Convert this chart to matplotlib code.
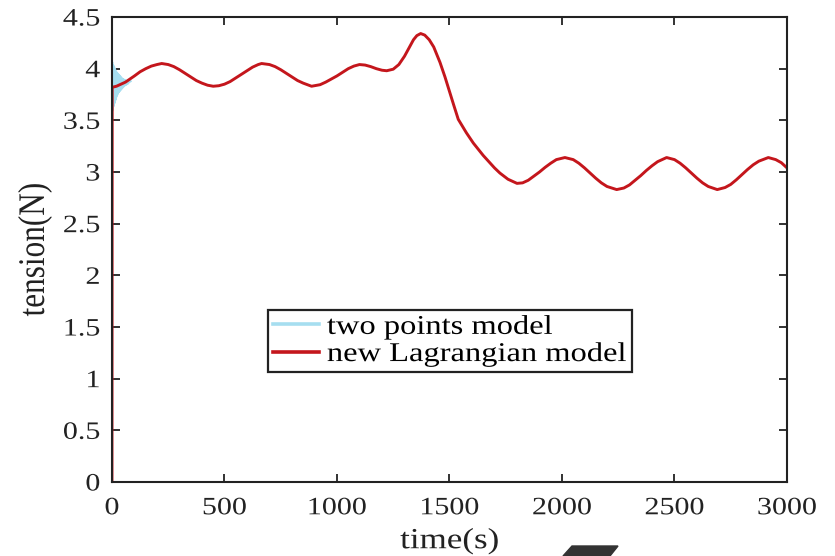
import matplotlib

matplotlib.use("Agg")
import matplotlib.pyplot as plt  # noqa: E402
from matplotlib.patches import Polygon  # noqa: E402
from matplotlib.patheffects import AbstractPathEffect  # noqa: E402
from matplotlib.ticker import FuncFormatter  # noqa: E402
from matplotlib.transforms import Affine2D  # noqa: E402

plt.rcParams["font.family"] = ["Liberation Serif", "DejaVu Serif"]

# --- data ------------------------------------------------------------------
# two points model: fast decaying oscillation at the start (s, N)
two_t = [0, 2, 4, 6, 8, 10, 12, 14, 16, 18, 20, 22, 24, 26, 28, 30, 32, 34,
         36, 38, 40, 42, 44, 46, 48, 50, 52, 54, 56, 58, 60, 62, 64, 66, 68,
         70, 72, 76, 80]
two_v = [4.05, 3.60, 4.03, 3.64, 4.01, 3.67, 3.99, 3.70, 3.97, 3.73, 3.96,
         3.75, 3.95, 3.77, 3.94, 3.78, 3.93, 3.79, 3.92, 3.80, 3.91, 3.81,
         3.90, 3.82, 3.895, 3.83, 3.89, 3.84, 3.885, 3.845, 3.88, 3.85,
         3.878, 3.855, 3.875, 3.86, 3.872, 3.875, 3.88]

# new Lagrangian model (s, N)
lag_t = [0, 1, 20, 40, 60, 80, 100, 125, 150, 175, 200, 221, 250, 275, 300,
         325, 350, 375, 400, 425, 450, 475, 500, 525, 550, 575, 600, 625,
         650, 665, 700, 725, 750, 775, 800, 825, 850, 887, 925, 950, 975,
         1000, 1025, 1050, 1075, 1100, 1125, 1150, 1175, 1200, 1221, 1250,
         1275, 1300, 1320, 1340, 1355, 1372, 1390, 1410, 1430, 1458, 1480,
         1500, 1520, 1539, 1575, 1606, 1650, 1700, 1724, 1760, 1800, 1825,
         1850, 1875, 1900, 1925, 1950, 1975, 2013, 2050, 2075, 2100, 2125,
         2150, 2175, 2200, 2243, 2275, 2300, 2325, 2350, 2375, 2400, 2425,
         2465, 2500, 2525, 2550, 2575, 2600, 2625, 2650, 2690, 2725, 2750,
         2775, 2800, 2825, 2850, 2875, 2917, 2950, 2975, 3000]
lag_v = [0.0, 3.82, 3.83, 3.85, 3.87, 3.90, 3.93, 3.97, 4.00, 4.025, 4.04,
         4.05, 4.04, 4.02, 3.99, 3.955, 3.92, 3.885, 3.86, 3.84, 3.83, 3.835,
         3.85, 3.875, 3.91, 3.945, 3.98, 4.015, 4.04, 4.05, 4.04, 4.02, 3.99,
         3.955, 3.92, 3.885, 3.86, 3.83, 3.845, 3.87, 3.90, 3.93, 3.965,
         4.00, 4.025, 4.04, 4.035, 4.02, 4.00, 3.985, 3.98, 3.995, 4.04,
         4.12, 4.20, 4.28, 4.32, 4.34, 4.325, 4.28, 4.21, 4.06, 3.92, 3.78,
         3.64, 3.51, 3.38, 3.28, 3.16, 3.04, 2.99, 2.93, 2.89, 2.895, 2.92,
         2.96, 3.00, 3.045, 3.085, 3.12, 3.14, 3.12, 3.085, 3.04, 2.99, 2.94,
         2.895, 2.86, 2.83, 2.845, 2.875, 2.92, 2.965, 3.015, 3.06, 3.10,
         3.14, 3.12, 3.085, 3.04, 2.99, 2.94, 2.895, 2.86, 2.83, 2.85, 2.88,
         2.925, 2.975, 3.025, 3.07, 3.105, 3.14, 3.12, 3.09, 3.04]

x_ticks = [0, 500, 1000, 1500, 2000, 2500, 3000]
y_ticks = [0, 0.5, 1, 1.5, 2, 2.5, 3, 3.5, 4, 4.5]

INK = "#222222"
STRETCH = 1.2  # the source image is squeezed wide, so is its text


class StretchX(AbstractPathEffect):
    """Widen a text path horizontally about its left/center/right edge."""

    def __init__(self, sx, anchor="center"):
        super().__init__()
        self.sx = sx
        self.anchor = anchor

    def draw_path(self, renderer, gc, tpath, affine, rgbFace=None):
        ext = tpath.get_extents(affine)
        px = {"left": ext.x0, "right": ext.x1,
              "center": 0.5 * (ext.x0 + ext.x1)}[self.anchor]
        aff = affine + Affine2D().translate(-px, 0).scale(self.sx, 1).translate(px, 0)
        renderer.draw_path(gc, tpath, aff, rgbFace)


# --- figure ----------------------------------------------------------------
fig = plt.figure(figsize=(8.35, 5.56), dpi=100)
ax = fig.add_axes([0.1341, 0.1331, 0.8084, 0.8363])

ax.plot(two_t, two_v, color="#a6def0", lw=2.2, label="two points model")
ax.plot(lag_t, lag_v, color="#c4161c", lw=2.1, label="new Lagrangian model")

ax.set_xlim(0, 3000)
ax.set_ylim(0, 4.5)
ax.set_xticks(x_ticks)
ax.set_yticks(y_ticks)
ax.yaxis.set_major_formatter(FuncFormatter(lambda v, _: f"{v:g}"))
ax.tick_params(direction="in", length=6, width=1.3, labelsize=18,
               top=True, right=True, colors=INK)
ax.tick_params(axis="x", pad=11)
ax.tick_params(axis="y", pad=8.5)
for sp in ax.spines.values():
    sp.set_linewidth(1.5)
    sp.set_color(INK)

ax.set_xlabel("time(s)", fontsize=21, labelpad=6, color=INK)
ax.set_ylabel("tension(N)", fontsize=22.5, labelpad=14, color=INK)

leg = ax.legend(loc="upper left", bbox_to_anchor=(0.2311, 0.23, 0.5393, 0.1399),
                mode="expand", fontsize=19.5, frameon=True, fancybox=False,
                edgecolor=INK, framealpha=1, borderpad=0.18, borderaxespad=0,
                handlelength=1.7, handletextpad=0.3, labelspacing=0.08)
leg.get_frame().set_linewidth(1.6)
for line in leg.get_lines():
    line.set_linewidth(2.6)

# widen every text the way the source image is widened
for tick in ax.xaxis.get_major_ticks():
    tick.label1.set_path_effects([StretchX(STRETCH, "center")])
for tick in ax.yaxis.get_major_ticks():
    tick.label1.set_path_effects([StretchX(STRETCH, "right")])
ax.xaxis.label.set_path_effects([StretchX(STRETCH, "center")])
ax.yaxis.label.set_path_effects([StretchX(STRETCH, "center")])
for txt in leg.get_texts():
    txt.set_path_effects([StretchX(STRETCH, "left")])

# dark scrap at the bottom edge of the original image
fig.patches.append(Polygon([(572 / 835, 10 / 556), (618 / 835, 10 / 556),
                            (610 / 835, 0), (563 / 835, 0)],
                           closed=True, transform=fig.transFigure,
                           color="#333333"))

fig.savefig("out.png", dpi=100)
